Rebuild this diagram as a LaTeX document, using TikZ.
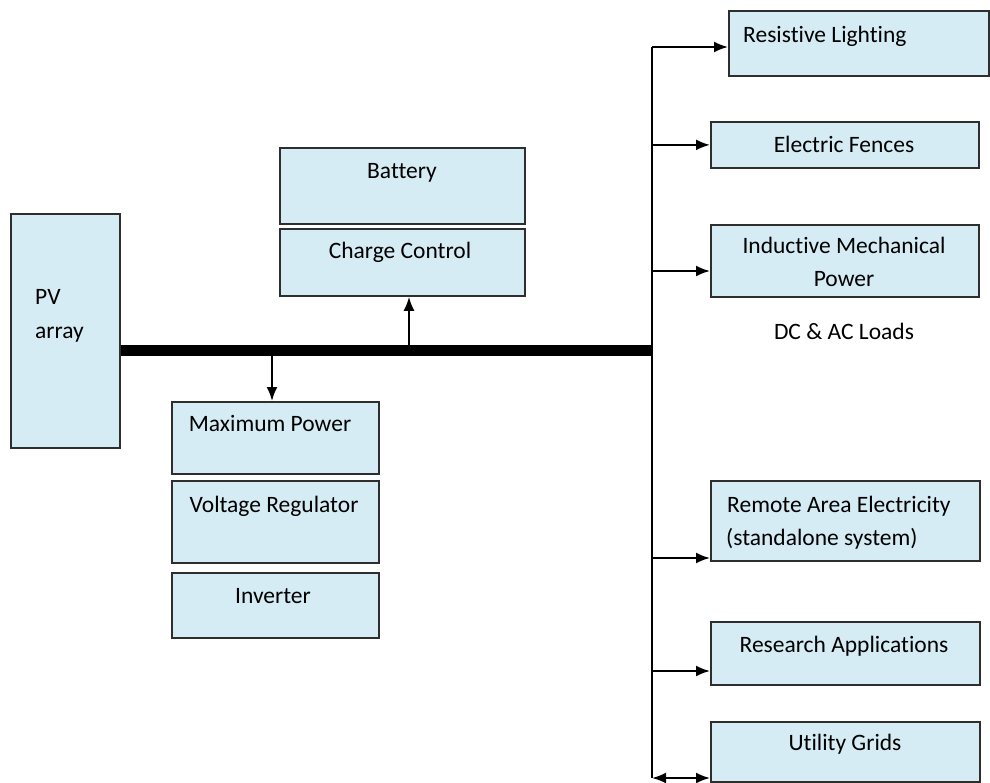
\documentclass[tikz,border=0pt]{standalone}
\usepackage{fontspec}
\setmainfont{Carlito}[Ligatures=NoCommon]
\usetikzlibrary{arrows.meta}
\definecolor{boxblue}{HTML}{D5ECF4}
\definecolor{boxline}{HTML}{2E2E2E}
\begin{document}
\begin{tikzpicture}[x=1pt,y=-1pt,
  box/.style={draw=boxline, line width=1.8pt, fill=boxblue, inner sep=0pt, anchor=north west},
  lbl/.style={font=\fontsize{23.5}{32}\selectfont, inner sep=0pt, anchor=base},
  lblw/.style={lbl, anchor=base west},
  conn/.style={line width=2pt, -{Latex[length=14pt,width=11pt]}},
  dconn/.style={line width=2pt, {Latex[length=14pt,width=11pt]}-{Latex[length=14pt,width=11pt]}},
  busline/.style={line width=11pt}]
\useasboundingbox (0,0) rectangle (990,783);

% boxes
\node[box, minimum width=109pt, minimum height=234pt] (pv) at (10,213) {};
\node[box, minimum width=245pt, minimum height=76pt] (bat) at (279,147) {};
\node[box, minimum width=245pt, minimum height=67pt] (cc) at (279,228) {};
\node[box, minimum width=207pt, minimum height=72pt] (mpp) at (171,401) {};
\node[box, minimum width=207pt, minimum height=82pt] (vr) at (171,480) {};
\node[box, minimum width=207pt, minimum height=65pt] (inv) at (171,572) {};
\node[box, minimum width=260pt, minimum height=65pt] (rl) at (728,10) {};
\node[box, minimum width=268pt, minimum height=46pt] (ef) at (710,121) {};
\node[box, minimum width=268pt, minimum height=72pt] (imp) at (710,224) {};
\node[box, minimum width=269pt, minimum height=80pt] (rae) at (710,480) {};
\node[box, minimum width=269pt, minimum height=63pt] (ra) at (710,621) {};
\node[box, minimum width=269pt, minimum height=60pt] (ug) at (710,721) {};

% labels
\node[lblw] (pvt1) at (35,305) {PV};
\node[lblw] (pvt2) at (35,338) {array};
\node[lbl] (batt) at (402,179) {Battery};
\node[lbl] (cct) at (400,259) {Charge Control};
\node[lbl] (mppt) at (270,431) {Maximum Power};
\node[lbl] (vrt) at (274,512) {Voltage Regulator};
\node[lbl] (invt) at (273,603) {Inverter};
\node[lblw] (rlt) at (743,43) {Resistive Lighting};
\node[lbl] (eft) at (844,153) {Electric Fences};
\node[lbl] (impt1) at (844,254) {Inductive Mechanical};
\node[lbl] (impt2) at (844,287) {Power};
\node[lbl] (loads) at (844,340) {DC \& AC Loads};
\node[lblw] (raet1) at (727,512) {Remote Area Electricity};
\node[lblw] (raet2) at (726,545) {(standalone system)};
\node[lbl] (rat) at (844,652) {Research Applications};
\node[lbl] (ugt) at (845,750) {Utility Grids};

% bus and distribution line
\coordinate (busR) at (653,350.5);
\coordinate (vtop) at (652,47);
\coordinate (vbot) at (652,778);
\coordinate (tapB) at (409,345);
\coordinate (tapM) at (272,356);
\draw[busline] (pv.east |- busR) -- (busR);
\draw[line width=2pt] (vtop) -- (vbot);

% connectors
\draw[conn] (tapB) -- (tapB |- cc.south);
\draw[conn] (tapM) -- (tapM |- mpp.north);
\draw[conn] (vtop) -- (rl.west |- vtop);
\draw[conn] (vtop |- ef.west) -- (ef.west);
\draw[conn] (vtop |- 0,271) -- (imp.west |- 0,271);
\draw[conn] (vtop |- 0,558) -- (rae.west |- 0,558);
\draw[conn] (vtop |- 0,671) -- (ra.west |- 0,671);
\draw[dconn] (vbot) -- (ug.west |- vbot);
\end{tikzpicture}
\end{document}
